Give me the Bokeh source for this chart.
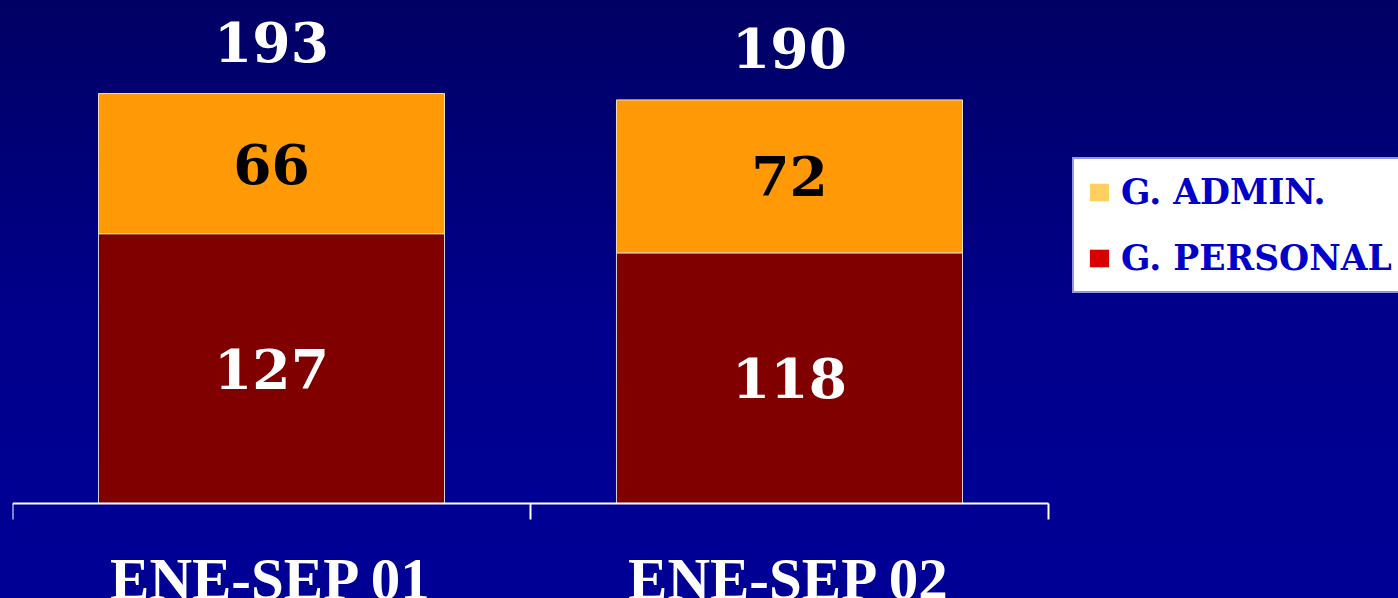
import re
from bokeh.plotting import figure
from bokeh.models import (ColumnDataSource, Range1d, LinearAxis,
                          FixedTicker, Legend, LegendItem, InlineStyleSheet)
from bokeh.core.properties import value
from bokeh.embed import file_html
from bokeh.resources import INLINE

# ---- data ----
categories = ["ENE-SEP 01", "ENE-SEP 02"]
g_personal = [127, 118]
g_admin = [66, 72]
totals = [193, 190]
series_names = ["G. ADMIN.", "G. PERSONAL"]

# category slots on a numeric axis: slot i spans [i, i+1]
centers = [i + 0.5 for i in range(len(categories))]
edges = list(range(len(categories) + 1))

admin_top = [a + b for a, b in zip(g_personal, g_admin)]
src = ColumnDataSource(dict(
    x=centers,
    personal=g_personal,
    admin_bottom=g_personal,
    admin_top=admin_top,
    personal_mid=[v / 2 for v in g_personal],
    admin_mid=[p + a / 2 for p, a in zip(g_personal, g_admin)],
    total=totals,
    personal_lbl=[str(v) for v in g_personal],
    admin_lbl=[str(v) for v in g_admin],
    total_lbl=[str(v) for v in totals],
))

SERIF = value("DejaVu Serif")
GRADIENT = "linear-gradient(#000064 0%, #00008c 55%, #000096 100%)"

# the plotting area also hosts the legend to the right of the two slots
p = figure(x_range=Range1d(0, 2.6757),
           y_range=Range1d(-44.73, 236.8),
           width=1398, height=598, output_backend="svg", toolbar_location=None,
           x_axis_location=None, y_axis_location=None,
           min_border=0, min_border_left=12, min_border_right=0,
           min_border_top=0, min_border_bottom=0)
p.background_fill_alpha = 0
p.border_fill_alpha = 0
p.outline_line_color = None
p.xgrid.visible = False
p.ygrid.visible = False
p.stylesheets = [InlineStyleSheet(css=":host { background: %s; }" % GRADIENT)]

bar_w = 0.668
p.vbar(x="x", bottom=0, top="personal", width=bar_w, source=src,
       fill_color="#800000", line_color="#d8d0e0", line_width=1)
p.vbar(x="x", bottom="admin_bottom", top="admin_top", width=bar_w, source=src,
       fill_color="#ff9a06", line_color="#f0e0c0", line_width=1)

p.text(x="x", y="personal_mid", text="personal_lbl", source=src,
       text_font=SERIF, text_font_style="bold", text_font_size="55px",
       text_color="white", text_align="center", text_baseline="middle")
p.text(x="x", y="admin_mid", text="admin_lbl", source=src,
       text_font=SERIF, text_font_style="bold", text_font_size="55px",
       text_color="black", text_align="center", text_baseline="middle")
p.text(x="x", y="total", text="total_lbl", source=src, y_offset=-52,
       text_font=SERIF, text_font_style="bold", text_font_size="55px",
       text_color="white", text_align="center", text_baseline="middle")

# axis: labels at slot centres, tick marks (minor) at slot boundaries
x_axis = LinearAxis(fixed_location=0, bounds=(edges[0], edges[-1]),
                    ticker=FixedTicker(ticks=centers, minor_ticks=edges),
                    major_label_overrides={c: name for c, name in zip(centers, categories)},
                    axis_line_color="white", axis_line_width=2,
                    major_tick_line_color=None, major_tick_out=0, major_tick_in=0,
                    minor_tick_line_color="white", minor_tick_line_width=2,
                    minor_tick_out=16, minor_tick_in=0,
                    major_label_standoff=27,
                    major_label_text_font="Liberation Serif",
                    major_label_text_font_style="bold",
                    major_label_text_font_size="59px",
                    major_label_text_color="white")
p.add_layout(x_axis, "below")

# legend swatches: zero-size bars that only lend their colours to the legend
r_admin = p.vbar(x="x", bottom=0, top=0, width=0, source=src,
                 fill_color="#ffd060", line_color=None)
r_pers = p.vbar(x="x", bottom=0, top=0, width=0, source=src,
                fill_color="#d80000", line_color=None)
legend = Legend(items=[LegendItem(label=series_names[0], renderers=[r_admin], index=0),
                       LegendItem(label=series_names[1], renderers=[r_pers], index=0)],
                location=(1060, 305), orientation="vertical",
                glyph_width=24, glyph_height=22, label_standoff=10,
                label_height=40, spacing=26, padding=13, margin=0,
                label_text_font="DejaVu Serif", label_text_font_style="bold",
                label_text_font_size="34.5px", label_text_color="#0000c8",
                background_fill_color="white", background_fill_alpha=1,
                border_line_color="#2a2ad0", border_line_width=2)
p.add_layout(legend, "center")

html = file_html(p, INLINE)
html = re.sub(r"<body[^>]*>",
              '<body style="background: %s;">' % GRADIENT, html, count=1)
open("out.html", "w").write(html)
